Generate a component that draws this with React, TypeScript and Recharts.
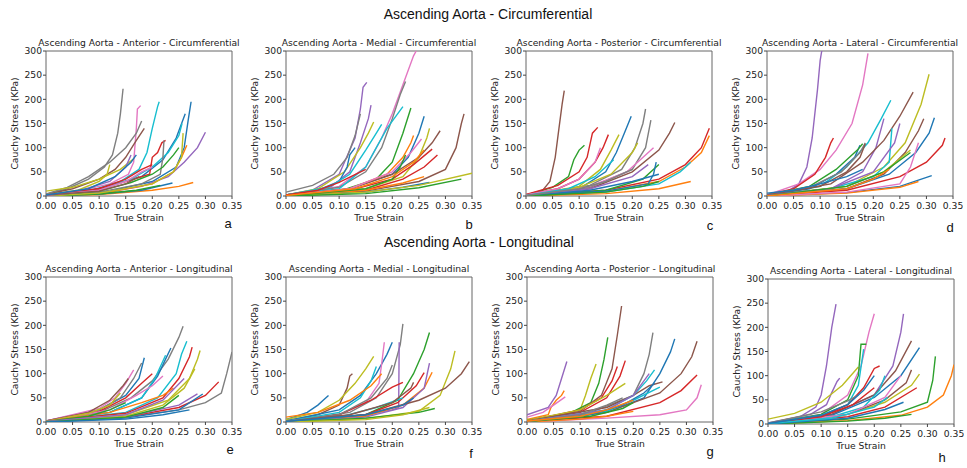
import React from "react";
import { LineChart, Line, XAxis, YAxis, ReferenceArea } from "recharts";

// matplotlib tab10 colours, keyed by a letter
const COLORS: Record<string, string> = {
  B: "#1f77b4",
  O: "#ff7f0e",
  G: "#2ca02c",
  R: "#d62728",
  P: "#9467bd",
  N: "#8c564b",
  K: "#e377c2",
  Y: "#7f7f7f",
  L: "#bcbd22",
  C: "#17becf",
};

const xTicks = [0, 0.05, 0.1, 0.15, 0.2, 0.25, 0.3, 0.35];
const yTicks = [0, 50, 100, 150, 200, 250, 300];

// each curve: colour letter, flat list of [strain, stress(KPa)] pairs
type Curve = [string, number[]];

const antCirc: Curve[] = [
  ["Y", [0, 3, 0.04, 15, 0.08, 35, 0.11, 60, 0.125, 85, 0.135, 130, 0.14, 170, 0.145, 222]],
  ["K", [0, 2, 0.06, 10, 0.12, 25, 0.155, 45, 0.165, 70, 0.17, 140, 0.172, 180, 0.178, 187]],
  ["C", [0, 1, 0.08, 10, 0.14, 30, 0.175, 55, 0.19, 90, 0.2, 140, 0.21, 185, 0.213, 195]],
  ["B", [0, 2, 0.1, 15, 0.18, 40, 0.22, 75, 0.245, 120, 0.262, 170]],
  ["B", [0, 1, 0.12, 10, 0.2, 30, 0.245, 60, 0.26, 100, 0.268, 160, 0.273, 195]],
  ["P", [0, 0, 0.1, 5, 0.18, 20, 0.23, 40, 0.26, 70, 0.285, 100, 0.3, 132]],
  ["O", [0, 1, 0.12, 8, 0.2, 25, 0.24, 50, 0.255, 80, 0.265, 105]],
  ["O", [0, 0, 0.1, 3, 0.2, 12, 0.25, 20, 0.277, 28]],
  ["B", [0, 0, 0.1, 4, 0.18, 12, 0.238, 27]],
  ["G", [0, 0, 0.1, 4, 0.17, 12, 0.215, 22]],
  ["R", [0, 2, 0.08, 10, 0.15, 30, 0.195, 45, 0.2, 80, 0.21, 90, 0.218, 110, 0.225, 115]],
  ["N", [0, 3, 0.05, 15, 0.1, 35, 0.13, 55, 0.15, 80, 0.17, 115, 0.185, 140]],
  ["Y", [0, 4, 0.04, 18, 0.08, 40, 0.12, 70, 0.15, 100, 0.17, 130, 0.18, 155]],
  ["L", [0, 10, 0.05, 18, 0.1, 35, 0.14, 55, 0.165, 77]],
  ["L", [0, 2, 0.06, 12, 0.1, 30, 0.115, 45, 0.12, 65]],
  ["P", [0, 2, 0.06, 10, 0.12, 30, 0.15, 60, 0.16, 85]],
  ["C", [0, 1, 0.1, 12, 0.16, 35, 0.2, 60, 0.23, 90, 0.25, 125, 0.256, 150]],
  ["Y", [0, 0, 0.1, 8, 0.18, 25, 0.215, 45, 0.22, 80, 0.222, 115]],
  ["L", [0, 0, 0.1, 6, 0.2, 25, 0.24, 50, 0.255, 80, 0.258, 130]],
  ["G", [0, 1, 0.1, 10, 0.16, 28, 0.2, 45, 0.22, 60, 0.24, 85, 0.25, 100]],
  ["R", [0, 2, 0.1, 15, 0.15, 35, 0.18, 55, 0.2, 65]],
  ["K", [0, 1, 0.1, 12, 0.15, 30, 0.18, 50, 0.2, 60]],
  ["N", [0, 2, 0.1, 10, 0.15, 25, 0.175, 40]],
  ["B", [0, 2, 0.08, 15, 0.13, 40, 0.16, 70, 0.17, 85]],
];

const medCirc: Curve[] = [
  ["P", [0, 2, 0.05, 12, 0.1, 45, 0.13, 120, 0.14, 180, 0.145, 225, 0.152, 235]],
  ["P", [0, 1, 0.08, 15, 0.12, 50, 0.14, 110, 0.155, 160, 0.16, 188]],
  ["L", [0, 2, 0.06, 15, 0.11, 50, 0.14, 100, 0.155, 130, 0.165, 153]],
  ["Y", [0, 8, 0.05, 22, 0.09, 45, 0.115, 80, 0.13, 125, 0.14, 170]],
  ["B", [0, 2, 0.06, 12, 0.1, 30, 0.115, 60, 0.12, 85, 0.13, 100]],
  ["K", [0, 1, 0.1, 20, 0.15, 60, 0.18, 120, 0.2, 170, 0.22, 230, 0.24, 290, 0.245, 300]],
  ["Y", [0, 2, 0.1, 18, 0.15, 50, 0.18, 100, 0.2, 160, 0.215, 210, 0.225, 237]],
  ["C", [0, 1, 0.1, 15, 0.15, 60, 0.17, 100, 0.19, 140, 0.21, 170, 0.22, 185]],
  ["C", [0, 2, 0.08, 18, 0.12, 45, 0.15, 95, 0.17, 130, 0.18, 148]],
  ["G", [0, 1, 0.1, 10, 0.17, 35, 0.2, 70, 0.22, 130, 0.235, 182]],
  ["B", [0, 1, 0.12, 15, 0.2, 45, 0.23, 80, 0.25, 130, 0.26, 165]],
  ["L", [0, 0, 0.15, 15, 0.22, 40, 0.25, 80, 0.265, 120, 0.27, 140]],
  ["N", [0, 1, 0.12, 15, 0.2, 45, 0.25, 80, 0.275, 110, 0.29, 135]],
  ["N", [0, 0, 0.15, 10, 0.25, 30, 0.3, 55, 0.32, 100, 0.33, 150, 0.335, 170]],
  ["R", [0, 1, 0.12, 12, 0.2, 35, 0.24, 65, 0.275, 97]],
  ["R", [0, 0, 0.15, 12, 0.22, 35, 0.26, 60, 0.285, 85]],
  ["O", [0, 0, 0.15, 12, 0.22, 27, 0.26, 40]],
  ["B", [0, 0, 0.15, 8, 0.22, 18, 0.27, 28]],
  ["L", [0, 0, 0.15, 8, 0.25, 22, 0.35, 47]],
  ["G", [0, 0, 0.15, 5, 0.25, 17, 0.33, 35]],
  ["O", [0, 1, 0.12, 15, 0.19, 45, 0.22, 80, 0.235, 110, 0.24, 125]],
  ["K", [0, 1, 0.12, 15, 0.2, 50, 0.235, 90, 0.255, 118]],
  ["G", [0, 0, 0.15, 15, 0.2, 35, 0.215, 60, 0.225, 85]],
  ["R", [0, 2, 0.06, 12, 0.1, 28, 0.15, 55]],
  ["O", [0, 1, 0.13, 15, 0.2, 40, 0.24, 70, 0.26, 95]],
];

const postCirc: Curve[] = [
  ["N", [0, 2, 0.03, 10, 0.045, 30, 0.055, 80, 0.062, 140, 0.068, 190, 0.072, 218]],
  ["G", [0, 2, 0.05, 18, 0.08, 40, 0.09, 75, 0.1, 95, 0.11, 105]],
  ["R", [0, 3, 0.06, 22, 0.1, 50, 0.115, 80, 0.125, 130, 0.135, 142]],
  ["R", [0, 2, 0.06, 15, 0.1, 35, 0.13, 70, 0.145, 100, 0.155, 127]],
  ["L", [0, 1, 0.1, 20, 0.14, 55, 0.16, 95, 0.175, 127]],
  ["B", [0, 1, 0.1, 15, 0.15, 50, 0.17, 90, 0.185, 130, 0.198, 165]],
  ["Y", [0, 1, 0.12, 22, 0.18, 55, 0.205, 100, 0.22, 150, 0.225, 180]],
  ["Y", [0, 0, 0.12, 18, 0.2, 55, 0.225, 100, 0.235, 157]],
  ["N", [0, 1, 0.12, 15, 0.2, 50, 0.25, 95, 0.27, 130, 0.28, 152]],
  ["K", [0, 1, 0.12, 20, 0.19, 50, 0.225, 85, 0.24, 100]],
  ["L", [0, 1, 0.1, 18, 0.16, 45, 0.2, 90, 0.21, 110]],
  ["K", [0, 2, 0.06, 15, 0.1, 35, 0.13, 70, 0.14, 100]],
  ["R", [0, 1, 0.15, 12, 0.25, 35, 0.3, 65, 0.33, 100, 0.345, 140]],
  ["O", [0, 0, 0.15, 10, 0.25, 30, 0.3, 60, 0.33, 90, 0.345, 125]],
  ["C", [0, 0, 0.15, 8, 0.25, 25, 0.29, 50, 0.31, 70]],
  ["O", [0, 0, 0.15, 5, 0.25, 15, 0.31, 30]],
  ["G", [0, 0, 0.15, 12, 0.22, 35, 0.25, 65]],
  ["B", [0, 0, 0.15, 10, 0.23, 25, 0.24, 45, 0.245, 70]],
  ["P", [0, 0, 0.12, 15, 0.2, 40, 0.23, 65]],
  ["C", [0, 1, 0.08, 15, 0.13, 40, 0.165, 75]],
  ["B", [0, 0, 0.12, 12, 0.2, 30, 0.25, 45]],
  ["G", [0, 0, 0.15, 8, 0.22, 20, 0.25, 30]],
  ["Y", [0, 1, 0.1, 15, 0.15, 30, 0.2, 55]],
];

const latCirc: Curve[] = [
  ["P", [0, 2, 0.04, 10, 0.06, 25, 0.075, 60, 0.085, 120, 0.095, 220, 0.1, 280, 0.103, 300]],
  ["K", [0, 2, 0.06, 25, 0.1, 55, 0.13, 95, 0.16, 150, 0.18, 230, 0.19, 295]],
  ["R", [0, 2, 0.05, 15, 0.09, 45, 0.11, 80, 0.12, 110, 0.125, 120]],
  ["C", [0, 1, 0.1, 20, 0.15, 60, 0.19, 110, 0.215, 160, 0.233, 198]],
  ["P", [0, 1, 0.12, 15, 0.18, 50, 0.205, 100, 0.22, 160]],
  ["N", [0, 2, 0.12, 25, 0.18, 70, 0.22, 115, 0.25, 165, 0.275, 215]],
  ["L", [0, 1, 0.15, 20, 0.22, 60, 0.26, 110, 0.29, 190, 0.305, 252]],
  ["N", [0, 1, 0.15, 15, 0.22, 45, 0.26, 90, 0.285, 135, 0.295, 160]],
  ["B", [0, 1, 0.15, 15, 0.23, 45, 0.28, 90, 0.305, 130, 0.315, 162]],
  ["R", [0, 1, 0.15, 12, 0.25, 40, 0.3, 70, 0.33, 105, 0.335, 120]],
  ["B", [0, 0, 0.15, 7, 0.25, 20, 0.31, 42]],
  ["O", [0, 0, 0.15, 6, 0.25, 18, 0.285, 30]],
  ["K", [0, 0, 0.15, 8, 0.25, 25, 0.27, 60, 0.285, 110]],
  ["L", [0, 1, 0.15, 20, 0.22, 50, 0.27, 95]],
  ["C", [0, 1, 0.12, 15, 0.2, 40, 0.23, 70, 0.235, 140]],
  ["B", [0, 2, 0.08, 15, 0.13, 45, 0.165, 80, 0.175, 105]],
  ["G", [0, 2, 0.08, 20, 0.13, 55, 0.17, 95, 0.18, 108]],
  ["Y", [0, 3, 0.08, 18, 0.14, 50, 0.175, 90, 0.185, 110]],
  ["N", [0, 2, 0.1, 20, 0.15, 50, 0.175, 80, 0.185, 108]],
  ["P", [0, 1, 0.12, 15, 0.2, 50, 0.24, 110, 0.25, 150]],
  ["G", [0, 0, 0.15, 20, 0.22, 50, 0.27, 90]],
  ["O", [0, 0, 0.15, 15, 0.2, 35, 0.23, 55]],
  ["B", [0, 6, 0.05, 12, 0.1, 25, 0.15, 40, 0.18, 55]],
];

const antLong: Curve[] = [
  ["Y", [0, 2, 0.1, 20, 0.16, 50, 0.2, 85, 0.23, 130, 0.25, 175, 0.258, 198]],
  ["Y", [0, 0, 0.15, 10, 0.25, 25, 0.3, 40, 0.33, 60, 0.34, 100, 0.35, 145]],
  ["R", [0, 0, 0.15, 10, 0.25, 30, 0.3, 55, 0.325, 83]],
  ["B", [0, 0, 0.15, 8, 0.25, 25, 0.295, 58]],
  ["P", [0, 0, 0.15, 10, 0.25, 35, 0.285, 58]],
  ["C", [0, 1, 0.15, 20, 0.21, 50, 0.245, 100, 0.255, 140, 0.265, 167]],
  ["R", [0, 1, 0.15, 18, 0.22, 50, 0.25, 90, 0.27, 135, 0.275, 155]],
  ["L", [0, 1, 0.15, 15, 0.23, 45, 0.27, 90, 0.285, 130, 0.29, 148]],
  ["L", [0, 0, 0.15, 12, 0.22, 35, 0.26, 70, 0.28, 110]],
  ["B", [0, 1, 0.12, 20, 0.18, 50, 0.21, 95, 0.225, 130, 0.235, 153]],
  ["C", [0, 1, 0.12, 20, 0.18, 50, 0.205, 90, 0.225, 138]],
  ["B", [0, 2, 0.1, 25, 0.15, 55, 0.175, 90, 0.185, 133]],
  ["Y", [0, 2, 0.1, 25, 0.14, 50, 0.165, 90, 0.18, 122]],
  ["K", [0, 2, 0.1, 28, 0.13, 50, 0.15, 80, 0.165, 108]],
  ["N", [0, 2, 0.08, 20, 0.12, 45, 0.145, 75, 0.155, 90]],
  ["R", [0, 1, 0.1, 22, 0.15, 50, 0.18, 80, 0.2, 100]],
  ["K", [0, 1, 0.12, 25, 0.17, 55, 0.2, 75, 0.22, 95]],
  ["L", [0, 1, 0.08, 18, 0.12, 35, 0.14, 60]],
  ["O", [0, 1, 0.12, 20, 0.18, 40, 0.22, 55, 0.24, 70]],
  ["G", [0, 1, 0.08, 12, 0.12, 25, 0.15, 40]],
  ["P", [0, 1, 0.15, 15, 0.22, 45, 0.26, 90]],
  ["G", [0, 0, 0.15, 10, 0.22, 30, 0.25, 55]],
  ["B", [0, 0, 0.15, 6, 0.22, 15, 0.27, 25]],
];

const medLong: Curve[] = [
  ["B", [0, 5, 0.02, 12, 0.04, 20, 0.06, 35, 0.07, 45, 0.08, 55]],
  ["N", [0, 2, 0.06, 15, 0.1, 35, 0.115, 70, 0.12, 95, 0.125, 100]],
  ["L", [0, 5, 0.06, 20, 0.1, 45, 0.13, 80, 0.15, 110, 0.165, 136]],
  ["B", [0, 2, 0.1, 25, 0.14, 55, 0.17, 100, 0.19, 140, 0.2, 165]],
  ["K", [0, 1, 0.1, 15, 0.15, 40, 0.175, 80, 0.18, 120, 0.185, 165]],
  ["Y", [0, 1, 0.12, 20, 0.17, 50, 0.2, 100, 0.215, 160, 0.22, 203]],
  ["P", [0, 0, 0.12, 10, 0.2, 25, 0.212, 30, 0.213, 165]],
  ["G", [0, 1, 0.15, 15, 0.21, 45, 0.24, 100, 0.26, 150, 0.27, 185]],
  ["R", [0, 1, 0.15, 15, 0.21, 40, 0.245, 75, 0.26, 102]],
  ["O", [0, 1, 0.15, 12, 0.22, 35, 0.26, 70, 0.275, 103]],
  ["P", [0, 0, 0.15, 10, 0.22, 30, 0.26, 70, 0.27, 122]],
  ["L", [0, 0, 0.15, 7, 0.25, 22, 0.29, 55, 0.31, 110, 0.318, 147]],
  ["N", [0, 1, 0.15, 15, 0.25, 45, 0.3, 70, 0.33, 100, 0.345, 125]],
  ["R", [0, 1, 0.1, 15, 0.16, 45, 0.2, 72, 0.22, 82]],
  ["C", [0, 1, 0.1, 20, 0.14, 50, 0.16, 85, 0.17, 115]],
  ["Y", [0, 1, 0.1, 15, 0.16, 50, 0.19, 90, 0.2, 118]],
  ["O", [0, 10, 0.06, 20, 0.12, 45, 0.16, 75, 0.18, 100]],
  ["C", [0, 1, 0.1, 10, 0.17, 30, 0.22, 50]],
  ["G", [0, 0, 0.15, 8, 0.25, 20, 0.28, 28]],
  ["L", [0, 0, 0.15, 5, 0.22, 15, 0.27, 30]],
  ["N", [0, 1, 0.12, 15, 0.2, 40, 0.235, 70, 0.24, 82]],
  ["B", [0, 1, 0.15, 15, 0.22, 35, 0.24, 50]],
];

const postLong: Curve[] = [
  ["P", [0, 15, 0.04, 30, 0.055, 55, 0.065, 90, 0.075, 125]],
  ["O", [0, 5, 0.04, 15, 0.045, 30, 0.055, 45, 0.065, 55, 0.07, 65]],
  ["K", [0, 10, 0.03, 20, 0.05, 35, 0.072, 52]],
  ["L", [0, 3, 0.06, 15, 0.1, 25, 0.11, 55, 0.12, 90, 0.13, 120]],
  ["G", [0, 3, 0.08, 18, 0.12, 40, 0.135, 80, 0.145, 130, 0.152, 175]],
  ["N", [0, 2, 0.1, 22, 0.14, 55, 0.16, 110, 0.17, 180, 0.178, 240]],
  ["R", [0, 2, 0.1, 25, 0.14, 50, 0.16, 85, 0.17, 115]],
  ["R", [0, 2, 0.1, 20, 0.15, 50, 0.175, 95, 0.185, 127]],
  ["L", [0, 3, 0.1, 25, 0.15, 55, 0.185, 80]],
  ["Y", [0, 1, 0.12, 20, 0.2, 55, 0.22, 100, 0.23, 140, 0.237, 185]],
  ["B", [0, 1, 0.15, 20, 0.22, 50, 0.25, 100, 0.27, 145, 0.278, 172]],
  ["N", [0, 1, 0.15, 20, 0.25, 60, 0.29, 100, 0.31, 135, 0.32, 167]],
  ["R", [0, 1, 0.15, 12, 0.25, 40, 0.29, 65, 0.32, 97]],
  ["K", [0, 0, 0.15, 8, 0.25, 15, 0.3, 25, 0.32, 50, 0.328, 77]],
  ["N", [0, 2, 0.15, 30, 0.2, 55, 0.23, 75, 0.255, 83]],
  ["C", [0, 1, 0.15, 25, 0.2, 55, 0.225, 85, 0.24, 108]],
  ["C", [0, 1, 0.15, 22, 0.2, 45, 0.25, 72]],
  ["P", [0, 1, 0.15, 25, 0.2, 55, 0.22, 85, 0.23, 100]],
  ["O", [0, 0, 0.1, 6, 0.15, 12, 0.2, 22]],
  ["B", [0, 1, 0.12, 15, 0.18, 35, 0.22, 60, 0.24, 80]],
  ["G", [0, 1, 0.12, 12, 0.18, 28, 0.2, 40]],
  ["Y", [0, 1, 0.1, 15, 0.15, 35, 0.18, 50]],
  ["O", [0, 2, 0.1, 12, 0.15, 25, 0.2, 45]],
];

const latLong: Curve[] = [
  ["P", [0, 2, 0.06, 15, 0.09, 35, 0.1, 60, 0.11, 120, 0.12, 200, 0.128, 248]],
  ["P", [0, 1, 0.08, 20, 0.11, 40, 0.12, 65, 0.13, 88, 0.135, 95]],
  ["L", [0, 10, 0.05, 22, 0.1, 45, 0.14, 80, 0.17, 118]],
  ["K", [0, 1, 0.1, 20, 0.15, 60, 0.175, 120, 0.19, 190, 0.2, 228]],
  ["G", [0, 1, 0.1, 20, 0.15, 50, 0.17, 100, 0.175, 165, 0.185, 165]],
  ["C", [0, 1, 0.1, 18, 0.15, 40, 0.17, 80, 0.18, 155]],
  ["R", [0, 1, 0.1, 15, 0.15, 40, 0.18, 75, 0.2, 115, 0.21, 120]],
  ["P", [0, 1, 0.12, 20, 0.2, 60, 0.235, 120, 0.25, 190, 0.255, 228]],
  ["N", [0, 1, 0.12, 20, 0.2, 60, 0.24, 110, 0.27, 172]],
  ["B", [0, 1, 0.12, 18, 0.2, 55, 0.25, 100, 0.285, 158]],
  ["L", [0, 1, 0.15, 20, 0.22, 45, 0.27, 80, 0.285, 103]],
  ["N", [0, 1, 0.15, 20, 0.22, 50, 0.26, 85, 0.27, 112]],
  ["R", [0, 0, 0.15, 15, 0.22, 35, 0.28, 75]],
  ["G", [0, 0, 0.15, 10, 0.25, 25, 0.3, 45, 0.31, 90, 0.315, 140]],
  ["O", [0, 0, 0.15, 7, 0.25, 18, 0.3, 35, 0.33, 60, 0.345, 100, 0.35, 123]],
  ["G", [0, 0, 0.15, 6, 0.22, 12, 0.27, 20]],
  ["C", [0, 1, 0.12, 15, 0.18, 35, 0.21, 70, 0.22, 100]],
  ["Y", [0, 2, 0.1, 25, 0.15, 48, 0.17, 60]],
  ["K", [0, 1, 0.15, 20, 0.22, 55, 0.25, 100]],
  ["B", [0, 0, 0.15, 12, 0.22, 30, 0.255, 45]],
  ["R", [0, 1, 0.1, 15, 0.16, 40, 0.2, 75]],
  ["C", [0, 1, 0.12, 12, 0.2, 35, 0.225, 55]],
  ["B", [0, 1, 0.1, 18, 0.15, 40, 0.18, 70, 0.2, 100]],
];

const toPts = (p: number[]) => {
  const out: { x: number; y: number }[] = [];
  for (let i = 0; i < p.length; i += 2) out.push({ x: p[i], y: p[i + 1] });
  return out;
};

const PW = 186;
const PH = 145;
const FS = 9.2;
const TXT = "#222";

function Panel({ left, top, curves }: { left: number; top: number; curves: Curve[] }) {
  return (
    <div style={{ position: "absolute", left: left - 46, top: top - 10 }}>
      <LineChart width={PW + 56} height={PH + 45} margin={{ top: 10, right: 10, bottom: 0, left: 0 }}>
        <XAxis
          type="number"
          dataKey="x"
          domain={[0, 0.35]}
          ticks={xTicks}
          interval={0}
          allowDataOverflow
          height={35}
          tickSize={3}
          tickMargin={3}
          axisLine={false}
          tickLine={{ stroke: "#444" }}
          tickFormatter={(v: number) => v.toFixed(2)}
          tick={{ fontSize: FS, fill: TXT }}
          label={{ value: "True Strain", position: "insideBottom", offset: 10, fontSize: FS, fill: TXT }}
        />
        <YAxis
          type="number"
          domain={[0, 300]}
          ticks={yTicks}
          interval={0}
          allowDataOverflow
          width={46}
          tickSize={3}
          tickMargin={1}
          axisLine={false}
          tickLine={{ stroke: "#444" }}
          tick={{ fontSize: FS, fill: TXT }}
          label={{
            value: "Cauchy Stress (KPa)",
            angle: -90,
            position: "insideLeft",
            offset: 15,
            fontSize: FS,
            fill: TXT,
            style: { textAnchor: "middle" },
          }}
        />
        {curves.map(([c, p], i) => (
          <Line
            key={i}
            data={toPts(p)}
            dataKey="y"
            type="linear"
            stroke={COLORS[c]}
            strokeWidth={1.4}
            dot={false}
            activeDot={false}
            isAnimationActive={false}
          />
        ))}
        <ReferenceArea x1={0} x2={0.35} y1={0} y2={300} fill="none" stroke="#666" strokeWidth={1} />
      </LineChart>
    </div>
  );
}

const panels = [
  { left: 46, top: 51, curves: antCirc, title: "Ascending Aorta - Anterior - Circumferential", letter: "a", lx: 228, ly: 228 },
  { left: 286, top: 51, curves: medCirc, title: "Ascending Aorta - Medial - Circumferential", letter: "b", lx: 469, ly: 229 },
  { left: 526, top: 51, curves: postCirc, title: "Ascending Aorta - Posterior - Circumferential", letter: "c", lx: 710, ly: 230 },
  { left: 767, top: 51, curves: latCirc, title: "Ascending Aorta - Lateral - Circumferential", letter: "d", lx: 950, ly: 232 },
  { left: 46, top: 277, curves: antLong, title: "Ascending Aorta - Anterior - Longitudinal", letter: "e", lx: 230, ly: 454 },
  { left: 286, top: 277, curves: medLong, title: "Ascending Aorta - Medial - Longitudinal", letter: "f", lx: 471, ly: 458 },
  { left: 527, top: 277, curves: postLong, title: "Ascending Aorta - Posterior - Longitudinal", letter: "g", lx: 710, ly: 456 },
  { left: 768, top: 279, curves: latLong, title: "Ascending Aorta - Lateral - Longitudinal", letter: "h", lx: 942, ly: 462 },
];

export default function App() {
  return (
    <div
      style={{
        position: "absolute",
        left: 0,
        top: 0,
        width: 967,
        height: 468,
        background: "#fff",
        fontFamily: "'DejaVu Sans', sans-serif",
        overflow: "hidden",
      }}
    >
      {panels.map((p) => (
        <Panel key={p.letter} left={p.left} top={p.top} curves={p.curves} />
      ))}
      <svg width={967} height={468} style={{ position: "absolute", left: 0, top: 0, pointerEvents: "none" }}>
        <text x={488} y={19} textAnchor="middle" fontSize={14} fill="#111" fontFamily="'Liberation Sans', Arial, sans-serif">
          Ascending Aorta - Circumferential
        </text>
        <text x={479} y={247} textAnchor="middle" fontSize={14} fill="#111" fontFamily="'Liberation Sans', Arial, sans-serif">
          Ascending Aorta - Longitudinal
        </text>
        {panels.map((p) => (
          <text key={p.title} x={p.left + PW / 2} y={p.top - 5} textAnchor="middle" fontSize={FS} fill={TXT}>
            {p.title}
          </text>
        ))}
        {panels.map((p) => (
          <text key={p.letter + "l"} x={p.lx} y={p.ly} textAnchor="middle" fontSize={13} fill="#111" fontFamily="'Liberation Sans', Arial, sans-serif">
            {p.letter}
          </text>
        ))}
      </svg>
    </div>
  );
}
